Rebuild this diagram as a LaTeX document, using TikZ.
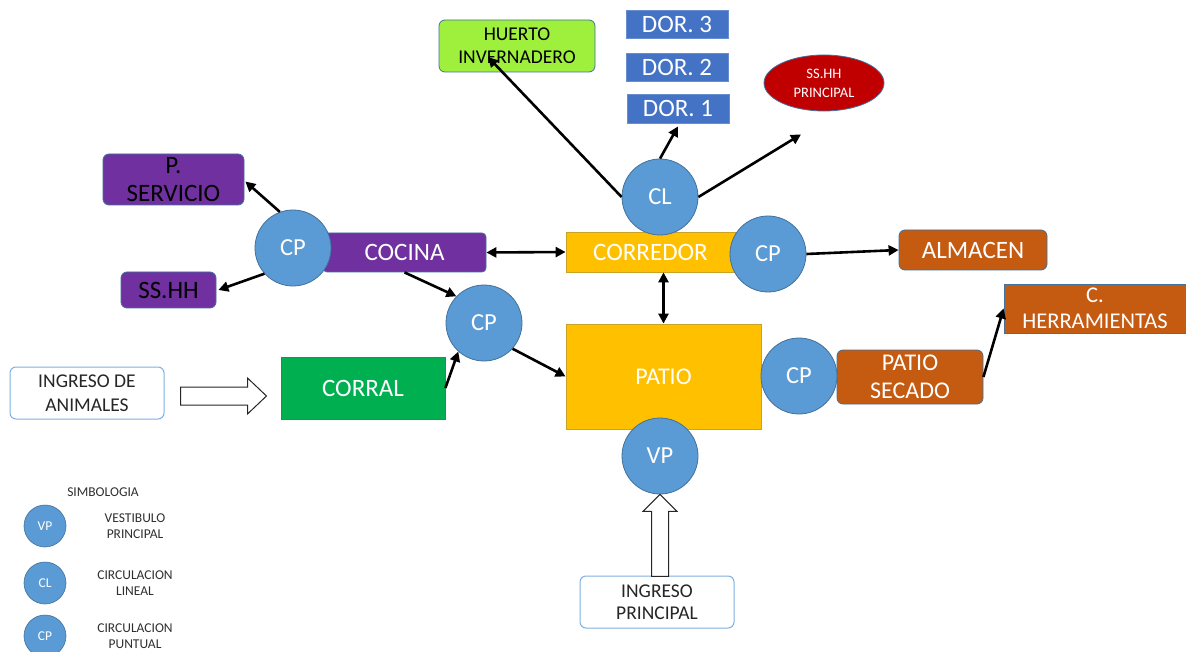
\documentclass[tikz,border=0pt]{standalone}
\usepackage{fontspec}
\setmainfont{Carlito}
\usetikzlibrary{arrows.meta,calc,shapes.geometric}
\definecolor{cpblue}{HTML}{5B9BD5}
\definecolor{cpborder}{HTML}{41719C}
\definecolor{lime}{HTML}{9FF03C}
\definecolor{dorblue}{HTML}{4472C4}
\definecolor{dred}{HTML}{C00000}
\definecolor{purp}{HTML}{7030A0}
\definecolor{yel}{HTML}{FFC000}
\definecolor{yelborder}{HTML}{C9A227}
\definecolor{orng}{HTML}{C55A11}
\definecolor{grn}{HTML}{00B050}
\definecolor{lightbd}{HTML}{7EB0E0}
\definecolor{legtext}{HTML}{303030}
\begin{document}
\begin{tikzpicture}[x=1pt,y=-1pt,
  box/.style={draw=cpborder, line width=0.8pt, inner sep=0pt, align=center, text=white},
  rbox/.style={box, rounded corners=6pt},
  circ/.style={circle, fill=cpblue, draw=cpborder, line width=0.8pt, minimum size=76pt, inner sep=0pt, text=white, font=\fontsize{24.5}{28}\selectfont},
  lcirc/.style={circle, fill=cpblue, draw=cpborder, line width=0.6pt, minimum size=42pt, inner sep=0pt, text=white, font=\fontsize{13.5}{16}\selectfont},
  legtxt/.style={align=center, text=legtext, font=\fontsize{13.5}{16}\selectfont},
  big/.style={font=\fontsize{25}{28}\selectfont},
  arr/.style={line width=2.6pt, -{Triangle[length=10pt,width=10pt]}},
  darr/.style={line width=2.6pt, {Triangle[length=10pt,width=10pt]}-{Triangle[length=10pt,width=10pt]}},
  hollow/.style={draw=black!85, line width=1pt, fill=white, line join=miter}
]
\useasboundingbox (0,0) rectangle (1186,652);
\fill[white] (0,0) rectangle (1186,652);

% boxes
\node[rbox, fill=lime, text=black, minimum width=156pt, minimum height=52pt, font=\fontsize{19.5}{23}\selectfont] (huerto) at (517,46) {HUERTO\\INVERNADERO};
\node[box, fill=dorblue, draw=dorblue!80, minimum width=102pt, minimum height=28pt, big] (dor3) at (677,24) {DOR. 3};
\node[box, fill=dorblue, draw=dorblue!80, minimum width=102pt, minimum height=28pt, big] (dor2) at (677,67) {DOR. 2};
\node[box, fill=dorblue, draw=dorblue!80, minimum width=102pt, minimum height=29pt, big] (dor1) at (678,108.5) {DOR. 1};
\node[ellipse, box, fill=dred, minimum width=120pt, minimum height=56pt, font=\fontsize{14.5}{19}\selectfont] (sshhp) at (824,83) {SS.HH\\PRINCIPAL};

\node[rbox, fill=purp, text=black, minimum width=141pt, minimum height=51pt, font=\fontsize{25}{28}\selectfont] (pserv) at (173.5,179.5) {P.\\SERVICIO};
\node[rbox, fill=purp, rounded corners=4pt, minimum width=163pt, minimum height=39pt, big] (cocina) at (404.5,252.5) {COCINA};
\node[rbox, fill=purp, text=black, minimum width=95pt, minimum height=36pt, big] (sshh) at (168.5,290) {SS.HH};

\node[box, fill=yel, draw=yelborder, minimum width=169pt, minimum height=40pt, big] (corredor) at (650.5,252) {CORREDOR};
\node[rbox, fill=orng, minimum width=148pt, minimum height=40pt, big] (almacen) at (973,250) {ALMACEN};
\node[box, fill=yel, draw=yelborder, minimum width=195pt, minimum height=105pt, font=\fontsize{24}{28}\selectfont] (patio) at (663.5,376.5) {PATIO};
\node[box, fill=grn, minimum width=164pt, minimum height=62pt, big] (corral) at (363,388) {CORRAL};
\node[rbox, fill=white, draw=lightbd, line width=1pt, text=black!85, minimum width=154pt, minimum height=52pt, font=\fontsize{19.5}{24}\selectfont] (ina) at (87,393) {INGRESO DE\\ANIMALES};
\node[rbox, fill=orng, minimum width=146pt, minimum height=54pt, font=\fontsize{24}{28}\selectfont] (psec) at (910,377) {PATIO\\SECADO};
\node[box, fill=orng, minimum width=182pt, minimum height=49pt, font=\fontsize{22.5}{26}\selectfont] (herr) at (1095,308.5) {C.\\HERRAMIENTAS};
\node[rbox, fill=white, draw=lightbd, line width=1pt, text=black!85, minimum width=154pt, minimum height=52pt, font=\fontsize{19.5}{22}\selectfont] (inp) at (657,602) {INGRESO\\PRINCIPAL};

% circles
\node[circ] (cl) at (660,197) {CL};
\node[circ] (cp1) at (293,248) {CP};
\node[circ] (cp2) at (768,254) {CP};
\node[circ] (cpm) at (484,323) {CP};
\node[circ] (cp3) at (799,376) {CP};
\node[circ] (vp) at (660,456) {VP};

% connectors
\draw[arr] (cl.west) -- ($(huerto.center)+(-29,11)$);
\draw[arr] (cl.north) -- ($(dor1.south)+(0,3)$);
\draw[arr] (cl.east) -- ($(sshhp.south)+(-23,23)$);
\draw[arr] (cp1.110) -- ($(pserv.east)+(1,2)$);
\draw[arr] (cp1.222) -- ($(sshh.east)+(2,0)$);
\draw[darr] (cocina.east) -- (corredor.west);
\draw[arr] (cocina.south) -- (cpm.136);
\draw[arr] (cpm.-42) -- (patio.west);
\draw[arr] (corral.east) -- (cpm.228);
\draw[darr] (patio.north) -- (patio.north |- corredor.south);
\draw[arr] (cp2.east) -- (almacen.west);
\draw[arr] (psec.east) -- (herr.west);

% hollow arrows
\draw[hollow] ($(ina.east)+(16,-6)$) -- ++(67,0) -- ++(0,-9) -- ++(19,18) -- ++(-19,18) -- ++(0,-9) -- ++(-67,0) -- cycle;
\draw[hollow] (vp.south) -- ++(17,17) -- ++(-8.5,0) -- ++(0,65) -- ++(-17,0) -- ++(0,-65) -- ++(-8.5,0) -- cycle;

% legend
\node[legtxt] (simb) at (103,492) {SIMBOLOGIA};
\node[lcirc] (lvp) at (45,526) {VP};
\node[lcirc] (lcl) at (45,583) {CL};
\node[lcirc] (lcp) at (45,636) {CP};
\node[legtxt] (tvp) at (135,526) {VESTIBULO\\PRINCIPAL};
\node[legtxt] (tcl) at (135,583) {CIRCULACION\\LINEAL};
\node[legtxt] (tcp) at (135,636) {CIRCULACION\\PUNTUAL};
\end{tikzpicture}
\end{document}
